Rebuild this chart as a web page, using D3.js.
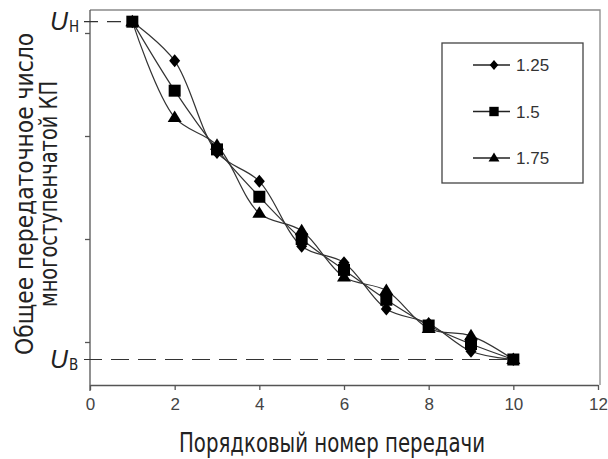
<!DOCTYPE html>
<html><head><meta charset="utf-8">
<script src="https://cdn.jsdelivr.net/npm/d3@7"></script>
<style>body{margin:0;background:#fff}</style>
</head><body>
<svg id="c" width="608" height="459"></svg>
<script>
// ---- data ----
const gears = [1,2,3,4,5,6,7,8,9,10];
const seriesNames = ["1.25","1.5","1.75"];
const v125 = [4.11,3.73,2.84,2.56,1.93,1.77,1.32,1.18,0.91,0.83];
const v150 = [4.11,3.44,2.87,2.41,2.00,1.70,1.41,1.16,0.98,0.83];
const v175 = [4.11,3.18,2.91,2.25,2.08,1.63,1.50,1.13,1.06,0.83];
const xTicks = [0,2,4,6,8,10,12];
const yTicks = [1,2,3,4];
const uH = 4.11, uB = 0.83;
const xTitle = "Порядковый номер передачи";
const yTitle = ["Общее передаточное число","многоступенчатой КП"];
const uLabels = [{v:uH, sub:"Н"},{v:uB, sub:"В"}];

// ---- layout ----
const svg = d3.select("#c");
const x = d3.scaleLinear().domain([0,12]).range([90,598]);
const y = d3.scaleLinear().domain([0.5825,4.2233]).range([385,10]);
const lineCol = "#333";
const condensed = "'Liberation Sans Narrow','DejaVu Sans Condensed','Liberation Sans',sans-serif";

// frame (top + right)
svg.append("path").attr("d",`M${x(0)},${y.range()[1]}H${x(12)+2}V${y.range()[0]}`)
  .attr("fill","none").attr("stroke","#8a8a8a").attr("stroke-width",1.3);

// x axis
const gx = svg.append("g").attr("transform",`translate(0,${y.range()[0]})`)
  .call(d3.axisBottom(x).tickValues(xTicks).tickSize(5).tickSizeOuter(0).tickPadding(8));
gx.select(".domain").attr("stroke","#555").attr("stroke-width",1.3);
gx.selectAll(".tick line").attr("stroke","#555").attr("stroke-width",1.3);
gx.selectAll(".tick text").attr("font-family","'Liberation Sans',Arial,sans-serif")
  .attr("font-size",17).attr("fill","#444");

// y axis
const gy = svg.append("g").attr("transform",`translate(${x(0)},0)`)
  .call(d3.axisLeft(y).tickValues(yTicks).tickSize(5).tickSizeOuter(0).tickFormat(""));
gy.select(".domain").attr("stroke","#555").attr("stroke-width",1.3)
  .attr("d",`M0,${y.range()[1]}V${y.range()[0]+6}`);
gy.selectAll(".tick line").attr("stroke","#555").attr("stroke-width",1.3);

// dashed reference lines
svg.append("line").attr("x1",x(0)-6).attr("x2",x(1)).attr("y1",y(uH)).attr("y2",y(uH))
  .attr("stroke","#333").attr("stroke-width",1.1).attr("stroke-dasharray","14,9");
svg.append("line").attr("x1",x(0)-6).attr("x2",x(10)).attr("y1",y(uB)).attr("y2",y(uB))
  .attr("stroke","#333").attr("stroke-width",1.1).attr("stroke-dasharray","18,9");

// U labels
uLabels.forEach(u=>{
  const t = svg.append("text").attr("x",50).attr("y",y(u.v)+8)
    .attr("font-family","'Liberation Sans',Arial,sans-serif").attr("fill","#222");
  t.append("tspan").text("U").attr("font-style","italic").attr("font-size",25);
  t.append("tspan").text(u.sub).attr("font-size",15).attr("dy",2).attr("dx",1)
    .attr("font-family",condensed);
});

// series
const data = [v125,v150,v175].map((vals,i)=>({name:seriesNames[i],
  pts:gears.map((g,j)=>({g, v:vals[j]}))}));
const markers = [
  s => `M0,${-6.5*s}L${5.5*s},0L0,${6.5*s}L${-5.5*s},0Z`,
  s => `M${-6*s},${-6*s}H${6*s}V${6*s}H${-6*s}Z`,
  s => `M0,${-7*s}L${7*s},${4.5*s}H${-7*s}Z`
];
const line = d3.line().x(d=>x(d.g)).y(d=>y(d.v)).curve(d3.curveCatmullRom.alpha(0.5));
data.forEach(s=>{
  svg.append("path").attr("d",line(s.pts)).attr("fill","none")
    .attr("stroke",lineCol).attr("stroke-width",1.2);
});
data.forEach((s,i)=>{
  svg.append("g").selectAll("path").data(s.pts).join("path")
    .attr("transform",d=>`translate(${x(d.g)},${y(d.v)})`)
    .attr("d",markers[i](1)).attr("fill","#000");
});

// legend
const lg = svg.append("g");
lg.append("rect").attr("x",442).attr("y",43).attr("width",141).attr("height",140)
  .attr("fill","#fff").attr("stroke","#444").attr("stroke-width",1.3);
seriesNames.forEach((n,i)=>{
  const ly = 65 + i*46.5;
  lg.append("line").attr("x1",473).attr("x2",510).attr("y1",ly).attr("y2",ly)
    .attr("stroke","#222").attr("stroke-width",1.3);
  lg.append("path").attr("transform",`translate(494,${ly})`).attr("d",markers[i](0.78)).attr("fill","#000");
  lg.append("text").attr("x",516).attr("y",ly+6).text(n)
    .attr("font-family","'Liberation Sans',Arial,sans-serif").attr("font-size",17).attr("fill","#333");
});

// axis titles
svg.append("text").attr("x",x(6)-12).attr("y",452).text(xTitle)
  .attr("text-anchor","middle").attr("font-family",condensed).attr("font-size",26)
  .attr("fill","#222").attr("textLength",306).attr("lengthAdjust","spacingAndGlyphs");
yTitle.forEach((t,i)=>{
  svg.append("text").attr("transform",`translate(${[33,57][i]},194) rotate(-90)`)
    .text(t).attr("text-anchor","middle").attr("font-family",condensed).attr("font-size",25)
    .attr("fill","#222").attr("textLength",[322,226][i]).attr("lengthAdjust","spacingAndGlyphs");
});
</script>
</body></html>
